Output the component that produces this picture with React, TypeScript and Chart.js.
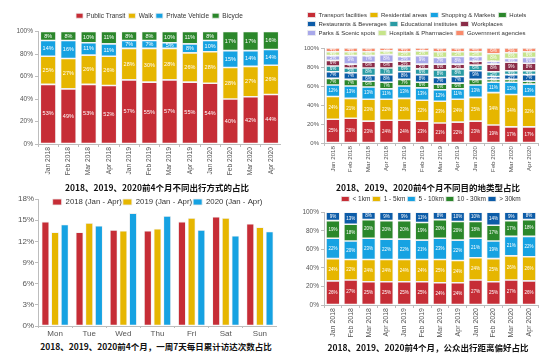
import React, { useEffect, useRef } from 'react';
import { Chart, registerables } from 'chart.js';

Chart.register(...registerables);
Chart.defaults.font.family = '"Liberation Sans", Arial, sans-serif';

// ---------- shared ----------
const months = ['Jan 2018', 'Feb 2018', 'Mar 2018', 'Apr 2018', 'Jan 2019', 'Feb 2019', 'Mar 2019', 'Apr 2019', 'Jan 2020', 'Feb 2020', 'Mar 2020', 'Apr 2020'];
const pctTicks = [0, 20, 40, 60, 80, 100];

// ---------- chart 1: travel mode share ----------
const modeLabels = ['Public Transit', 'Walk', 'Private Vehicle', 'Bicycle'];
const publicTransit = [53, 49, 53, 52, 57, 55, 57, 55, 54, 40, 42, 44];
const walk = [25, 27, 26, 26, 28, 30, 28, 26, 28, 28, 27, 26];
const privateVehicle = [14, 16, 11, 11, 7, 7, 5, 8, 10, 15, 14, 14];
const bicycle = [8, 8, 10, 11, 8, 8, 10, 11, 8, 17, 17, 16];

// ---------- chart 2: destination type share ----------
const destLabels = ['Transport facilities', 'Residential areas', 'Shopping & Markets', 'Hotels', 'Restaurants & Beverages', 'Educational institutes', 'Workplaces', 'Parks & Scenic spots', 'Hospitals & Pharmacies', 'Government agencies'];
const transport = [25, 26, 23, 24, 24, 23, 21, 22, 23, 19, 17, 17];
const residential = [24, 21, 23, 22, 23, 22, 23, 24, 25, 34, 34, 32];
const shopping = [12, 13, 13, 11, 13, 13, 12, 11, 13, 11, 13, 13];
const hotels = [7, 7, 6, 7, 7, 6, 6, 6, 6, 3, 3, 3];
const restaurants = [7, 7, 6, 8, 8, 8, 7, 7, 9, 3, 5, 7];
const educational = [6, 5, 8, 7, 6, 6, 8, 8, 6, 5, 4, 4];
const workplaces = [6, 4, 6, 6, 5, 5, 6, 5, 4, 8, 9, 8];
const parks = [5, 9, 7, 8, 5, 9, 7, 8, 5, 3, 4, 6];
const hospitals = [4, 4, 4, 4, 5, 5, 6, 5, 5, 8, 6, 6];
const government = [4, 4, 4, 3, 4, 3, 4, 4, 4, 6, 5, 4];

// ---------- chart 3: weekday visit share ----------
const days = ['Mon', 'Tue', 'Wed', 'Thu', 'Fri', 'Sat', 'Sun'];
const yearLabels = ['2018 (Jan - Apr)', '2019 (Jan - Apr)', '2020 (Jan - Apr)'];
const visits2018 = [14.8, 13.3, 13.6, 13.5, 14.8, 15.5, 14.5];
const visits2019 = [13.3, 14.6, 13.5, 13.8, 15.3, 15.3, 14.0];
const visits2020 = [14.4, 14.2, 16.0, 15.6, 13.6, 12.8, 13.4];
const weekTicks = [0, 3, 6, 9, 12, 15, 18];

// ---------- chart 4: distance preference ----------
const distLabels = ['< 1km', '1 - 5km', '5 - 10km', '10 - 30km', '> 30km'];
const under1km = [26, 27, 25, 25, 25, 25, 24, 24, 27, 25, 27, 26];
const km1to5 = [24, 22, 24, 24, 24, 24, 25, 24, 24, 25, 26, 26];
const km5to10 = [22, 20, 23, 22, 22, 21, 23, 22, 21, 19, 21, 22];
const km10to30 = [19, 18, 20, 20, 20, 19, 20, 20, 18, 17, 17, 18];
const over30km = [9, 13, 8, 9, 9, 11, 8, 10, 10, 14, 9, 8];

const titles = [
  '2018、2019、2020前4个月不同出行方式的占比',
  '2018、2019、2020前4个月不同目的地类型占比',
  '2018、2019、2020前4个月，一周7天每日累计访达次数占比',
  '2018、2019、2020前4个月，公众出行距离偏好占比',
];

// ---------- colours ----------
const RED = '#C62D36';
const YELLOW = '#E6B600';
const BLUE = '#16A2E2';
const GREEN = '#2B872B';
const DARKBLUE = '#0C5CA8';
const TEAL = '#2A9BA4';
const MAROON = '#8A2C48';
const LAVENDER = '#A8A8EA';
const LIGHTGREEN = '#C6E48A';
const SALMON = '#F98A6B';

// ---------- plugins ----------
const segLabels = {
  id: 'segLabels',
  afterDatasetsDraw(chart: any, _args: any, opts: any) {
    if (!opts || !opts.size) return;
    const ctx = chart.ctx;
    ctx.save();
    ctx.font = `${opts.size}px "Liberation Sans", Arial, sans-serif`;
    ctx.fillStyle = '#ffffff';
    ctx.textAlign = 'center';
    ctx.textBaseline = 'middle';
    chart.data.datasets.forEach((ds: any, i: number) => {
      const meta = chart.getDatasetMeta(i);
      meta.data.forEach((el: any, j: number) => {
        const p = el.getProps(['x', 'y', 'base'], true);
        ctx.fillText(`${ds.data[j]}%`, p.x, (p.y + p.base) / 2);
      });
    });
    ctx.restore();
  },
};

// lets the legend box reserve a little more (or less) height than Chart.js computes
const legendExtra = {
  id: 'legendExtra',
  beforeUpdate(chart: any, _args: any, opts: any) {
    const lg = chart.legend;
    if (lg && !lg.__patched) {
      const orig = lg.fit;
      lg.fit = function () {
        orig.call(this);
        this.height += (opts && opts.extra) || 0;
      };
      if (opts && opts.noClip) {
        lg.draw = function () {
          if (this.options.display) this._draw();
        };
      }
      lg.__patched = true;
    }
  },
};

const AXIS = '#bdbdbd';
const TICK = '#555555';

function stackSet(label: string, data: number[], color: string) {
  return {
    label,
    data,
    backgroundColor: color,
    borderColor: '#eeeeee',
    borderWidth: 0.8,
    borderSkipped: false,
    categoryPercentage: 0.8,
    barPercentage: 0.97,
  };
}

function stackedOptions(o: {
  padTop: number; padLeft: number; padRight: number; yWidth: number; xHeight: number;
  tickFont: number; xFont: number; legend: any; extra: number; seg: number;
}) {
  return {
    animation: false,
    responsive: false,
    maintainAspectRatio: false,
    layout: { padding: { top: o.padTop, left: o.padLeft, right: o.padRight, bottom: 0 } },
    plugins: {
      legend: o.legend,
      tooltip: { enabled: false },
      legendExtra: { extra: o.extra },
      segLabels: { size: o.seg },
    },
    scales: {
      x: {
        stacked: true,
        afterFit: (s: any) => { s.height = o.xHeight; },
        grid: { drawOnChartArea: false, tickLength: 3, color: AXIS },
        border: { color: AXIS },
        ticks: { minRotation: 90, maxRotation: 90, autoSkip: false, font: { size: o.xFont }, color: TICK, padding: 0 },
      },
      y: {
        stacked: true,
        min: 0,
        max: 100,
        afterFit: (s: any) => { s.width = o.yWidth; },
        afterBuildTicks: (s: any) => { s.ticks = pctTicks.map((v) => ({ value: v })); },
        grid: { drawOnChartArea: false, tickLength: 3, color: AXIS },
        border: { color: AXIS },
        ticks: { font: { size: o.tickFont }, color: TICK, padding: 2, callback: (v: any) => `${v}%` },
      },
    },
  };
}

function useChart(ref: React.RefObject<HTMLCanvasElement>, make: () => any) {
  useEffect(() => {
    if (!ref.current) return;
    const chart = new Chart(ref.current, make());
    return () => chart.destroy();
  }, []);
}

export default function App() {
  const c1 = useRef<HTMLCanvasElement>(null);
  const c2 = useRef<HTMLCanvasElement>(null);
  const c3 = useRef<HTMLCanvasElement>(null);
  const c4 = useRef<HTMLCanvasElement>(null);

  useChart(c1, () => ({
    type: 'bar',
    data: {
      labels: months,
      datasets: [
        stackSet(modeLabels[0], publicTransit, RED),
        stackSet(modeLabels[1], walk, YELLOW),
        stackSet(modeLabels[2], privateVehicle, BLUE),
        stackSet(modeLabels[3], bicycle, GREEN),
      ],
    },
    options: stackedOptions({
      padTop: 9.5, padLeft: 0, padRight: 0, yWidth: 38, xHeight: 37, tickFont: 6.5, xFont: 6.7, extra: 2.5, seg: 5.5,
      legend: { position: 'top', fullSize: false, labels: { font: { size: 6.5 }, color: '#333', boxWidth: 7, boxHeight: 5, padding: 3 } },
    }),
    plugins: [segLabels, legendExtra],
  }));

  useChart(c2, () => ({
    type: 'bar',
    data: {
      labels: months,
      datasets: [
        stackSet(destLabels[0], transport, RED),
        stackSet(destLabels[1], residential, YELLOW),
        stackSet(destLabels[2], shopping, BLUE),
        stackSet(destLabels[3], hotels, GREEN),
        stackSet(destLabels[4], restaurants, DARKBLUE),
        stackSet(destLabels[5], educational, TEAL),
        stackSet(destLabels[6], workplaces, MAROON),
        stackSet(destLabels[7], parks, LAVENDER),
        stackSet(destLabels[8], hospitals, LIGHTGREEN),
        stackSet(destLabels[9], government, SALMON),
      ],
    },
    options: stackedOptions({
      padTop: 9, padLeft: 26.5, padRight: 15, yWidth: 19.5, xHeight: 38, tickFont: 6, xFont: 6.2, extra: 2, seg: 4.5,
      legend: { position: 'top', align: 'start', labels: { font: { size: 6 }, color: '#333', boxWidth: 8, boxHeight: 5, padding: 3 } },
    }),
    plugins: [segLabels, legendExtra],
  }));

  useChart(c3, () => ({
    type: 'bar',
    data: {
      labels: days,
      datasets: [
        { label: yearLabels[0], data: visits2018, backgroundColor: RED },
        { label: yearLabels[1], data: visits2019, backgroundColor: YELLOW },
        { label: yearLabels[2], data: visits2020, backgroundColor: BLUE },
      ].map((d) => ({ ...d, borderColor: '#eeeeee', borderWidth: 0.8, borderSkipped: false, categoryPercentage: 0.85, barPercentage: 0.8 })),
    },
    options: {
      animation: false,
      responsive: false,
      maintainAspectRatio: false,
      layout: { padding: { top: 7.1, left: 0, right: 0, bottom: 0 } },
      plugins: {
        legend: { position: 'top', fullSize: false, labels: { font: { size: 7.8 }, color: '#333', boxWidth: 9, boxHeight: 6, padding: 1 } },
        legendExtra: { extra: -16.9, noClip: true },
        tooltip: { enabled: false },
      },
      scales: {
        x: {
          afterFit: (s: any) => { s.height = 14; },
          grid: { drawOnChartArea: false, tickLength: 2, color: AXIS },
          border: { color: AXIS },
          ticks: { font: { size: 8 }, color: TICK, padding: 1 },
        },
        y: {
          min: 0,
          max: 18,
          afterFit: (s: any) => { s.width = 38; },
          afterBuildTicks: (s: any) => { s.ticks = weekTicks.map((v) => ({ value: v })); },
          grid: { drawOnChartArea: false, tickLength: 3, color: AXIS },
          border: { color: AXIS },
          ticks: { font: { size: 8 }, color: TICK, padding: 1, callback: (v: any) => `${v}%` },
        },
      },
    },
    plugins: [legendExtra],
  }));

  useChart(c4, () => ({
    type: 'bar',
    data: {
      labels: months,
      datasets: [
        stackSet(distLabels[0], under1km, RED),
        stackSet(distLabels[1], km1to5, YELLOW),
        stackSet(distLabels[2], km5to10, BLUE),
        stackSet(distLabels[3], km10to30, GREEN),
        stackSet(distLabels[4], over30km, DARKBLUE),
      ],
    },
    options: stackedOptions({
      padTop: 3.75, padLeft: 0, padRight: 15, yWidth: 46, xHeight: 35, tickFont: 6.5, xFont: 7, extra: 0, seg: 4.5,
      legend: { position: 'top', fullSize: false, labels: { font: { size: 6.5 }, color: '#333', boxWidth: 8, boxHeight: 5, padding: 2 } },
    }),
    plugins: [segLabels, legendExtra],
  }));

  const cap = (cx: number, cy: number): React.CSSProperties => ({
    position: 'absolute',
    left: cx - 140,
    top: cy - 6,
    width: 280,
    height: 12,
    lineHeight: '12px',
    textAlign: 'center',
    fontFamily: '"Noto Sans CJK SC", sans-serif',
    fontWeight: 700,
    fontSize: 8.5,
    color: '#111',
    whiteSpace: 'nowrap',
  });

  const cv = (left: number, top: number, w: number, h: number): React.CSSProperties => ({
    position: 'absolute', left, top, width: w, height: h,
  });

  return (
    <div style={{ position: 'absolute', left: 0, top: 0, width: 553, height: 362, overflow: 'hidden', background: '#fff' }}>
      <canvas ref={c1} width={281} height={181} style={cv(0, 0, 281, 181)} />
      <canvas ref={c2} width={275} height={181} style={cv(278, 0, 275, 181)} />
      <canvas ref={c3} width={277} height={150} style={cv(0, 190, 277, 150)} />
      <canvas ref={c4} width={275} height={150} style={cv(278, 190, 275, 150)} />
      <div style={cap(157, 187)}>{titles[0]}</div>
      <div style={cap(428, 187)}>{titles[1]}</div>
      <div style={cap(156, 346)}>{titles[2]}</div>
      <div style={cap(428, 347)}>{titles[3]}</div>
    </div>
  );
}
